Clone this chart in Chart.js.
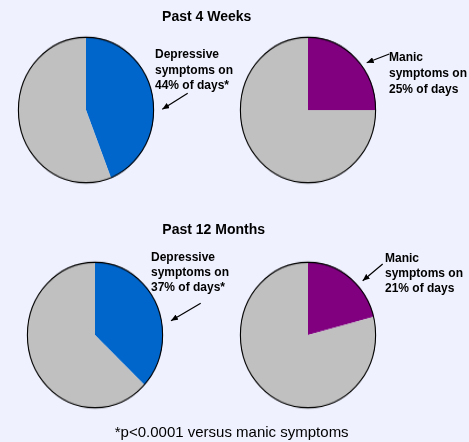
<!DOCTYPE html>
<html>
<head>
<meta charset="utf-8">
<script src="https://cdn.jsdelivr.net/npm/chart.js@4.4.1/dist/chart.umd.min.js"></script>
<style>
  html, body { margin: 0; padding: 0; }
  body { width: 469px; height: 442px; background: #EFF1FE; position: relative; overflow: hidden;
         font-family: "Liberation Sans", Arial, sans-serif; }
  .pie { position: absolute; width: 140px; height: 140px; transform-origin: 70px 70px; transform: scaleY(1.075); }
  .pie canvas { display: block; }
  svg#overlay { position: absolute; left: 0; top: 0; pointer-events: none; }
  svg text { font-family: "Liberation Sans", Arial, sans-serif; fill: #000; }
</style>
</head>
<body>
<div class="pie" id="w0" style="left:16px; top:40px;"><canvas id="c0" width="140" height="140"></canvas></div>
<div class="pie" id="w1" style="left:238px; top:40px;"><canvas id="c1" width="140" height="140"></canvas></div>
<div class="pie" id="w2" style="left:25px; top:265px;"><canvas id="c2" width="140" height="140"></canvas></div>
<div class="pie" id="w3" style="left:238px; top:265px;"><canvas id="c3" width="140" height="140"></canvas></div>

<svg id="overlay" width="469" height="442" xmlns="http://www.w3.org/2000/svg">
  <defs>
    <marker id="ah" markerUnits="userSpaceOnUse" markerWidth="8" markerHeight="6" refX="7" refY="3" orient="auto">
      <path d="M0,0 L7,3 L0,6 z" fill="#000"/>
    </marker>
  </defs>
  <g id="texts"></g>
  <g id="arrows" stroke="#000" stroke-width="1.2">
    <line x1="187.7" y1="93.3" x2="162.3" y2="109.3" marker-end="url(#ah)"/>
    <line x1="389.3" y1="54" x2="366.7" y2="62.7" marker-end="url(#ah)"/>
    <line x1="200.7" y1="303.3" x2="171" y2="320.7" marker-end="url(#ah)"/>
    <line x1="382.7" y1="264" x2="362.7" y2="280.7" marker-end="url(#ah)"/>
  </g>
</svg>

<script>
// ---- Data ----
const periods = ['Past 4 Weeks', 'Past 12 Months'];
const depressiveDays = [44, 37];   // % of days with depressive symptoms
const manicDays = [25, 21];        // % of days with manic symptoms
const footnote = '*p<0.0001 versus manic symptoms';

const blue = '#0066CC', purple = '#800080', grey = '#C0C0C0';

// ---- Outer black outline plugin ----
const outline = {
  id: 'outline',
  afterDatasetsDraw(chart) {
    const arc = chart.getDatasetMeta(0).data[0];
    if (!arc) return;
    const ctx = chart.ctx;
    ctx.save();
    ctx.beginPath();
    ctx.arc(arc.x, arc.y, arc.outerRadius - 0.4, 0, Math.PI * 2);
    ctx.lineWidth = 1.1;
    ctx.strokeStyle = '#000';
    ctx.stroke();
    ctx.restore();
  }
};

function makePie(id, value, color) {
  new Chart(document.getElementById(id), {
    type: 'pie',
    data: {
      labels: ['Symptoms', 'Other'],
      datasets: [{
        data: [value, 100 - value],
        backgroundColor: [color, grey],
        borderWidth: 0
      }]
    },
    options: {
      responsive: false,
      animation: false,
      layout: { padding: 2 },
      plugins: { legend: { display: false }, tooltip: { enabled: false } }
    },
    plugins: [outline]
  });
}

makePie('c0', depressiveDays[0], blue);
makePie('c1', manicDays[0], purple);
makePie('c2', depressiveDays[1], blue);
makePie('c3', manicDays[1], purple);

// ---- Texts ----
const NS = 'http://www.w3.org/2000/svg';
const g = document.getElementById('texts');
function addText(str, x, y, size, weight, anchor) {
  const t = document.createElementNS(NS, 'text');
  t.setAttribute('x', x);
  t.setAttribute('y', y);
  t.setAttribute('font-size', size);
  t.setAttribute('font-weight', weight);
  t.setAttribute('text-anchor', anchor || 'start');
  t.textContent = str;
  g.appendChild(t);
}
function addLabel(lines, x, y0, lh) {
  lines.forEach((l, i) => addText(l, x, y0 + i * lh, 12, 'bold'));
}

addText(periods[0], 206.7, 20.7, 14, 'bold', 'middle');
addText(periods[1], 213.7, 233.7, 14, 'bold', 'middle');

addLabel(['Depressive', 'symptoms on', depressiveDays[0] + '% of days*'], 155, 58.3, 15.3);
addLabel(['Manic', 'symptoms on', manicDays[0] + '% of days'], 389, 61, 16);
addLabel(['Depressive', 'symptoms on', depressiveDays[1] + '% of days*'], 151, 260.7, 15.3);
addLabel(['Manic', 'symptoms on', manicDays[1] + '% of days'], 385, 261.7, 15.3);

addText(footnote, 231.7, 436.5, 15, 'normal', 'middle');
</script>
</body>
</html>
